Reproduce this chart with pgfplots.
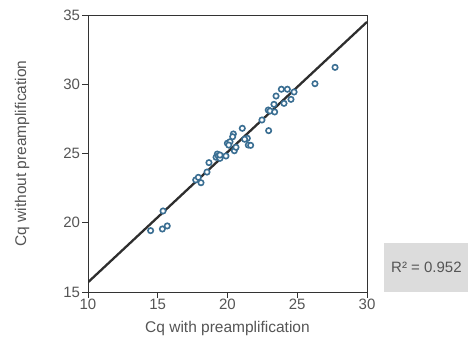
\documentclass[border=0pt]{standalone}
\usepackage{fontspec}
\setmainfont{Liberation Sans}
\usepackage{pgfplots}
\pgfplotsset{compat=1.18}
\definecolor{mk}{RGB}{58,110,146}
\definecolor{txt}{RGB}{85,85,85}
\definecolor{boxg}{RGB}{220,220,220}
\begin{document}
\begin{tikzpicture}
\begin{axis}[
  scale only axis, width=279bp, height=277bp,
  xmin=10, xmax=30, ymin=15, ymax=35,
  xtick={10,15,20,25,30}, ytick={15,20,25,30,35},
  tick align=outside, xtick pos=bottom, ytick pos=left,
  major tick length=5.5bp,
  axis line style={color=black!80, line width=0.8bp},
  every tick/.style={color=black!80, line width=0.8bp},
  /pgf/number format/assume math mode=true,
  tick label style={font=\fontsize{15bp}{17bp}\selectfont, text=txt},
  xticklabel style={yshift=2bp},
  yticklabel style={xshift=1bp},
]
\addplot[color=black!82, line width=2.3bp] coordinates {(10,15.7) (30,34.5)};
\addplot[only marks, mark=*, mark size=2.7bp,
  mark options={draw=mk, fill=white, line width=1.6bp}] table {
x y
14.49 19.43
15.33 19.55
15.68 19.77
15.38 20.85
17.72 23.09
18.10 22.89
17.91 23.28
18.53 23.66
18.67 24.34
19.18 24.73
19.27 24.96
19.34 24.82
19.46 24.65
19.46 24.89
19.89 24.82
19.99 25.74
20.18 25.85
20.09 25.61
20.42 26.41
20.37 26.21
20.49 25.20
20.61 25.45
21.42 26.10
21.49 25.61
21.06 26.82
21.23 26.03
21.66 25.59
22.47 27.42
22.95 26.65
22.92 28.14
23.05 28.07
23.38 28.00
23.33 28.55
24.05 28.62
23.48 29.15
23.86 29.64
24.29 29.64
24.77 29.44
24.55 28.91
26.27 30.04
27.71 31.22
};
\coordinate (ll) at (rel axis cs:0,0);
\coordinate (lr) at (rel axis cs:1,0);
\coordinate (ur) at (rel axis cs:1,1);
\coordinate (ml) at (rel axis cs:0,0.5);
\coordinate (mb) at (rel axis cs:0.5,0);
\end{axis}
\node[anchor=center, text=txt, font=\fontsize{15.5bp}{18bp}\selectfont] at ([yshift=-36bp]mb) {Cq with preamplification};
\node[anchor=center, rotate=90, text=txt, font=\fontsize{15.5bp}{18bp}\selectfont] at ([xshift=-66bp]ml) {Cq without preamplification};
\fill[boxg] ([shift={(17bp,0bp)}]lr) rectangle ([shift={(115bp,49bp)}]lr);
\node[anchor=west, inner sep=0pt, text=txt, font=\fontsize{15bp}{17bp}\selectfont] at ([shift={(24bp,25bp)}]lr) {R² = 0.952};
\pgfresetboundingbox
\path ([shift={(-88bp,-46bp)}]ll) rectangle ([shift={(101bp,15bp)}]ur);
\end{tikzpicture}
\end{document}
